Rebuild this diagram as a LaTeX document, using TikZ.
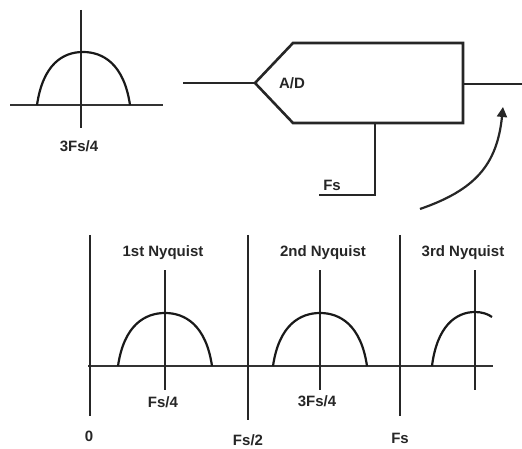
\documentclass[tikz,border=0pt]{standalone}
\usepackage{fontspec}
\setmainfont{Liberation Sans}
\usetikzlibrary{arrows.meta}
\begin{document}
\begin{tikzpicture}[x=1pt,y=-1pt,
  lbl/.style={font=\bfseries\fontsize{15}{17}\selectfont, inner sep=0pt, text=black!85},
  axis/.style={line width=2.6pt, black!80},
  bound/.style={line width=2pt, black!85},
  centre/.style={line width=1.1pt, black!85},
  hump/.style={line width=2.2pt, black!90},
  box/.style={line width=2.6pt, black!85, line join=miter},
  wire/.style={line width=1.3pt, black!85}]
\useasboundingbox (0,0) rectangle (522,449);
% ---- top left spectrum
\coordinate (tlA) at (10,105);
\coordinate (tlB) at (163,105);
\coordinate (tlT) at (81,10);
\coordinate (tlD) at (81,128);
\draw[axis] (tlA) -- (tlB);
\draw[centre] (tlT) -- (tlD);
\draw[hump] (37,105) .. controls (43,64) and (63,52) .. (83,52)
                     .. controls (103,52) and (124,64) .. (130,105);
\node[lbl] (l3a) at (79,146) {3Fs/4};
% ---- A/D converter
\coordinate (tip) at (255,83);
\coordinate (ul) at (293,43);
\coordinate (ur) at (463,43);
\coordinate (lr) at (463,123);
\coordinate (ll) at (293,123);
\coordinate (in) at (183,83);
\coordinate (outA) at (463,84);
\coordinate (outB) at (522,84);
\draw[box] (tip) -- (ul) -- (ur) -- (lr) -- (ll) -- cycle;
\node[lbl] (ad) at (292,83) {A/D};
\draw[wire] (in) -- (tip);
\draw[wire] (outA) -- (outB);
\coordinate (clk) at (375,123);
\coordinate (clkc) at (375,195);
\coordinate (clkl) at (319,195);
\draw[wire] (clk) -- (clkc) -- (clkl);
\node[lbl] (fsclk) at (332,185) {Fs};
\coordinate (arS) at (420,209);
\coordinate (arE) at (503,107);
\draw[line width=2.2pt, black!85, -{Triangle[length=10pt,width=10pt]}]
  (arS) .. controls (475,190) and (497,165) .. (arE);
% ---- bottom spectrum
\coordinate (z0t) at (90,235);
\coordinate (z0b) at (90,416);
\coordinate (h1t) at (248,235);
\coordinate (h1b) at (248,420);
\coordinate (f1t) at (400,235);
\coordinate (f1b) at (400,416);
\coordinate (axA) at (88,366);
\coordinate (axB) at (493,366);
\draw[axis] (axA) -- (axB);
\draw[bound] (z0t) -- (z0b);
\draw[bound] (h1t) -- (h1b);
\draw[bound] (f1t) -- (f1b);
\draw[centre] (165,270) -- (165,390);
\draw[centre] (320,270) -- (320,390);
\draw[centre] (475,270) -- (475,390);
\draw[hump] (118,366) .. controls (124,325) and (145,313) .. (165,313)
                      .. controls (185,313) and (206,325) .. (212,366);
\draw[hump] (273,366) .. controls (279,325) and (300,313) .. (320,313)
                      .. controls (340,313) and (361,325) .. (367,366);
\draw[hump] (432,366) .. controls (437,326) and (456,312) .. (475,312)
                      .. controls (482,312) and (488,314) .. (492,317);
\node[lbl] (n1) at (163,253) {1st Nyquist};
\node[lbl] (n2) at (323,253) {2nd Nyquist};
\node[lbl] (n3) at (463,253) {3rd Nyquist};
\node[lbl] (lf4) at (163,402) {Fs/4};
\node[lbl] (l3f4) at (317,401) {3Fs/4};
\node[lbl] (l0) at (89,436) {0};
\node[lbl] (lfs2) at (248,440) {Fs/2};
\node[lbl] (lfs) at (400,438) {Fs};
\end{tikzpicture}
\end{document}
